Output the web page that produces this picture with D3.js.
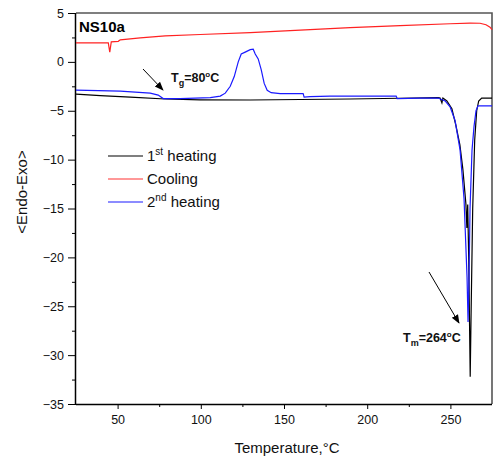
<!DOCTYPE html>
<html><head><meta charset="utf-8">
<script src="https://cdn.jsdelivr.net/npm/d3@7"></script>
<style>body{margin:0;background:#fff}svg{display:block;font-family:Arial,"Liberation Sans",sans-serif}</style>
</head><body><svg id="c" width="495" height="468"></svg>
<script>
// Data: [temperature °C, signal]
const heating1 = [[25,-3.3],[39.6,-3.45],[57.6,-3.6],[78.6,-3.8],[99.7,-3.88],[129.7,-3.9],[159.7,-3.85],[189.7,-3.8],[219.8,-3.72],[242.6,-3.65],[243.8,-3.7],[244.9,-4.2],[245.5,-3.7],[247.9,-4.0],[250.9,-4.8],[253.3,-6.5],[255.7,-8.5],[257.5,-11],[259.3,-14.5],[259.9,-17],[260.4,-14.6],[261.0,-20],[261.9,-32.2],[262.5,-25],[263.4,-15],[264.6,-8],[265.8,-5],[267.0,-4.0],[268.8,-3.7],[275,-3.7]];
const cooling = [[25,1.95],[44.4,1.95],[45.3,1.0],[46.2,2.05],[50.4,2.1],[51.6,2.25],[63.6,2.45],[78.6,2.65],[99.7,2.8],[129.7,3.0],[159.7,3.25],[189.7,3.5],[219.8,3.7],[249.8,3.9],[261.8,3.97],[267.8,3.95],[271.4,3.8],[273.8,3.55],[275,3.3]];
const heating2 = [[25,-2.9],[51.6,-3.0],[69.6,-3.2],[74.4,-3.4],[77.4,-3.75],[87.6,-3.75],[105.7,-3.65],[111.7,-3.5],[114.7,-3.2],[117.7,-2.5],[120.1,-1.5],[122.5,0.0],[124.3,0.8],[126.7,1.0],[129.7,1.25],[131.5,1.3],[132.7,0.8],[134.5,0.3],[136.3,-0.8],[138.1,-2.2],[139.9,-2.9],[142.3,-3.15],[147.7,-3.25],[161.5,-3.25],[162.1,-3.6],[165.7,-3.55],[177.7,-3.5],[217.4,-3.5],[218.0,-3.75],[231.8,-3.7],[242.6,-3.7],[246.8,-4.0],[249.8,-4.6],[252.8,-6.0],[255.8,-9],[258.2,-14],[260.0,-22],[260.6,-26.6],[261.2,-22],[261.8,-15],[263.0,-9],[264.2,-6.6],[265.4,-5],[266.6,-4.5],[275,-4.5]];
const xTicks = [50,100,150,200,250];
const xMinor = [75,125,175,225];
const yTicks = [5,0,-5,-10,-15,-20,-25,-30,-35];
const yMinor = [2.5,-2.5,-7.5,-12.5,-17.5,-22.5,-27.5,-32.5];
const legendItems = [["1","st"," heating","#000"],["Cooling","",""," #f33"],["2","nd"," heating","#1a1aff"]];

const svg = d3.select("#c");
const L=76, R=492, T=13, B=404;
const x = d3.scaleLinear().domain([25,275]).range([L,R]);
const y = d3.scaleLinear().domain([-35,5]).range([B,T]);

// frame top/right
svg.append("path").attr("d",`M${L},${T}H${R}V${B}`).attr("fill","none").attr("stroke","#555").attr("stroke-width",1.6);

// x axis
const gx = svg.append("g").attr("transform",`translate(0,${B})`);
gx.call(d3.axisBottom(x).tickValues(xMinor).tickSize(3).tickFormat(""));
gx.call(g=>{});
const gx2 = svg.append("g").attr("transform",`translate(0,${B})`)
  .call(d3.axisBottom(x).tickValues(xTicks).tickSize(5).tickPadding(6).tickFormat(d3.format("d")));
gx.select(".domain").remove();
gx2.select(".domain").attr("d",`M${L},0.5H${R}`).attr("stroke","#000").attr("stroke-width",1.5);
gx2.selectAll("text").attr("font-size",12.5).attr("fill","#111").attr("font-family","Arial, Liberation Sans");
svg.selectAll("g line").attr("stroke","#000");

// y axis
const gy = svg.append("g").attr("transform",`translate(${L},0)`)
  .call(d3.axisLeft(y).tickValues(yMinor).tickSize(4).tickFormat(""));
gy.select(".domain").remove();
const gy2 = svg.append("g").attr("transform",`translate(${L},0)`)
  .call(d3.axisLeft(y).tickValues(yTicks).tickSize(8).tickPadding(4).tickFormat(d3.format("d")));
gy2.select(".domain").attr("d",`M-0.5,${T}V${B}`).attr("stroke","#000").attr("stroke-width",1.5);
gy2.selectAll("text").attr("font-size",12.5).attr("fill","#111").attr("font-family","Arial, Liberation Sans");
svg.selectAll("g line").attr("stroke","#000");

// lines
const line = d3.line().x(d=>x(d[0])).y(d=>y(d[1]));
svg.append("path").datum(heating1).attr("d",line).attr("fill","none").attr("stroke","#000").attr("stroke-width",1.2);
svg.append("path").datum(cooling).attr("d",line).attr("fill","none").attr("stroke","#f22").attr("stroke-width",1.2);
svg.append("path").datum(heating2).attr("d",line).attr("fill","none").attr("stroke","#1a1aff").attr("stroke-width",1.2);

// title
svg.append("text").attr("x",79).attr("y",32).attr("font-size",15).attr("font-weight","bold").text("NS10a");

// legend
legendItems.forEach((it,i)=>{
  const yy = 156 + i*23;
  svg.append("line").attr("x1",108).attr("x2",143).attr("y1",yy).attr("y2",yy).attr("stroke",it[3].trim()).attr("stroke-width",1.2);
  const t = svg.append("text").attr("x",147).attr("y",yy+5).attr("font-size",15).attr("fill","#111");
  t.append("tspan").text(it[0]);
  if(it[1]){ t.append("tspan").attr("font-size",10).attr("dy",-6).text(it[1]); t.append("tspan").attr("dy",6).text(it[2]); }
});

// annotations
const defs = svg.append("defs");
defs.append("marker").attr("id","ah").attr("viewBox","0 0 10 10").attr("refX",9).attr("refY",5)
  .attr("markerWidth",9).attr("markerHeight",9).attr("markerUnits","userSpaceOnUse").attr("orient","auto")
  .append("path").attr("d","M0,1L10,5L0,9Z").attr("fill","#000");
function ann(x1,y1,x2,y2){ svg.append("line").attr("x1",x1).attr("y1",y1).attr("x2",x2).attr("y2",y2).attr("stroke","#000").attr("stroke-width",1).attr("marker-end","url(#ah)"); }
ann(143,69,163,90);
ann(429,272,459,323);
function label(x0,y0,sub,rest){
  const t = svg.append("text").attr("x",x0).attr("y",y0).attr("font-size",12.5).attr("font-weight","bold").attr("fill","#111");
  t.append("tspan").text("T");
  t.append("tspan").attr("font-size",9).attr("dy",4).text(sub);
  t.append("tspan").attr("dy",-4).text("="+rest);
  t.append("tspan").attr("font-size",8).attr("dy",-5).text("o");
  t.append("tspan").attr("dy",5).text("C");
}
label(171,82,"g","80");
label(403,342,"m","264");

// axis titles
svg.append("text").attr("x",287).attr("y",453).attr("text-anchor","middle").attr("font-size",15).attr("fill","#111").text("Temperature,°C");
svg.append("text").attr("transform","translate(27,192) rotate(-90)").attr("text-anchor","middle").attr("font-size",15).attr("fill","#111").text("<Endo-Exo>");
</script></body></html>
